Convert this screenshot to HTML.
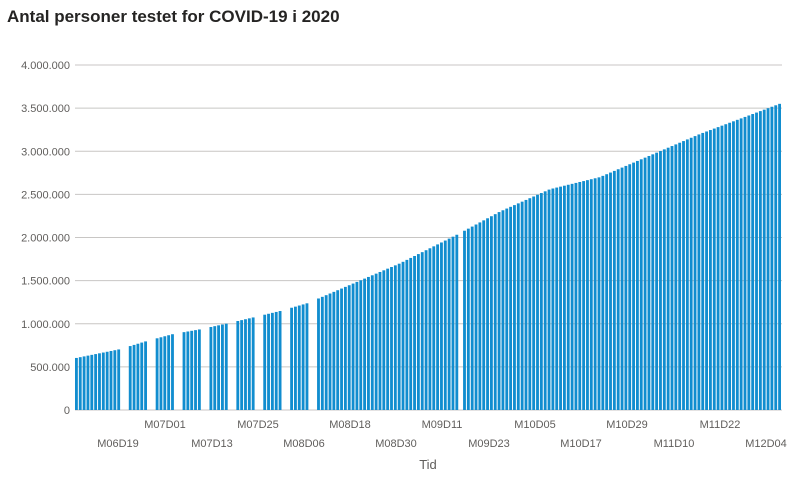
<!DOCTYPE html>
<html><head><meta charset="utf-8"><style>
body{margin:0;background:#fff;width:800px;height:478px;overflow:hidden;font-family:"Liberation Sans",sans-serif}
</style></head><body>
<svg id="s" width="800" height="478" xmlns="http://www.w3.org/2000/svg">
<text x="7" y="22" font-family="Liberation Sans" font-weight="bold" font-size="17" fill="#252423">Antal personer testet for COVID-19 i 2020</text>
</svg>
<script>
var s=document.getElementById('s'),ns='http://www.w3.org/2000/svg',h='';
for(var k=0;k<=8;k++){var y=410-k*43.125;
h+='<line x1="75" x2="782" y1="'+y+'" y2="'+y+'" stroke="#c8c6c4" stroke-width="1"/>';
var v=k*500000;var t=v==0?'0':v.toLocaleString('de-DE');
h+='<text x="70" y="'+(y+4)+'" text-anchor="end" font-size="11" fill="#605e5c">'+t+'</text>';}
var pts=[[75,600],[120,705],[147,800],[173,880],[200,935],[226,1000],[254,1075],[281,1150],[308,1240],[318,1290],[400,1700],[460,2050],[468,2100],[500,2300],[550,2560],[600,2700],[650,2950],[700,3200],[782,3560]];
function val(x){for(var i=1;i<pts.length;i++){if(x<=pts[i][0]){var a=pts[i-1],b=pts[i];return a[1]+(b[1]-a[1])*(x-a[0])/(b[0]-a[0]);}}return 3560;}
var skip={12:1,13:1,100:1};for(var w=19;w<=61;w+=7){skip[w]=1;skip[w+1]=1;}
var step=707/184;
for(var d=0;d<184;d++){if(skip[d])continue;var x=75+d*step;var v=val(x+1.5)*1000;var hh=v/4000000*345;
h+='<rect x="'+x.toFixed(2)+'" y="'+(410-hh).toFixed(2)+'" width="'+(step-1).toFixed(2)+'" height="'+hh.toFixed(2)+'" fill="#118dcf"/>';}
var labs=[['M06D19',118,1],['M07D01',165,0],['M07D13',212,1],['M07D25',258,0],['M08D06',304,1],['M08D18',350,0],['M08D30',396,1],['M09D11',442,0],['M09D23',489,1],['M10D05',535,0],['M10D17',581,1],['M10D29',627,0],['M11D10',674,1],['M11D22',720,0],['M12D04',766,1]];
labs.forEach(function(l){h+='<text x="'+l[1]+'" y="'+(l[2]?447:428)+'" text-anchor="middle" font-size="11" fill="#605e5c">'+l[0]+'</text>';});
h+='<text x="428" y="469" text-anchor="middle" font-size="13" fill="#605e5c">Tid</text>';
s.insertAdjacentHTML('beforeend',h);
</script>
</body></html>
